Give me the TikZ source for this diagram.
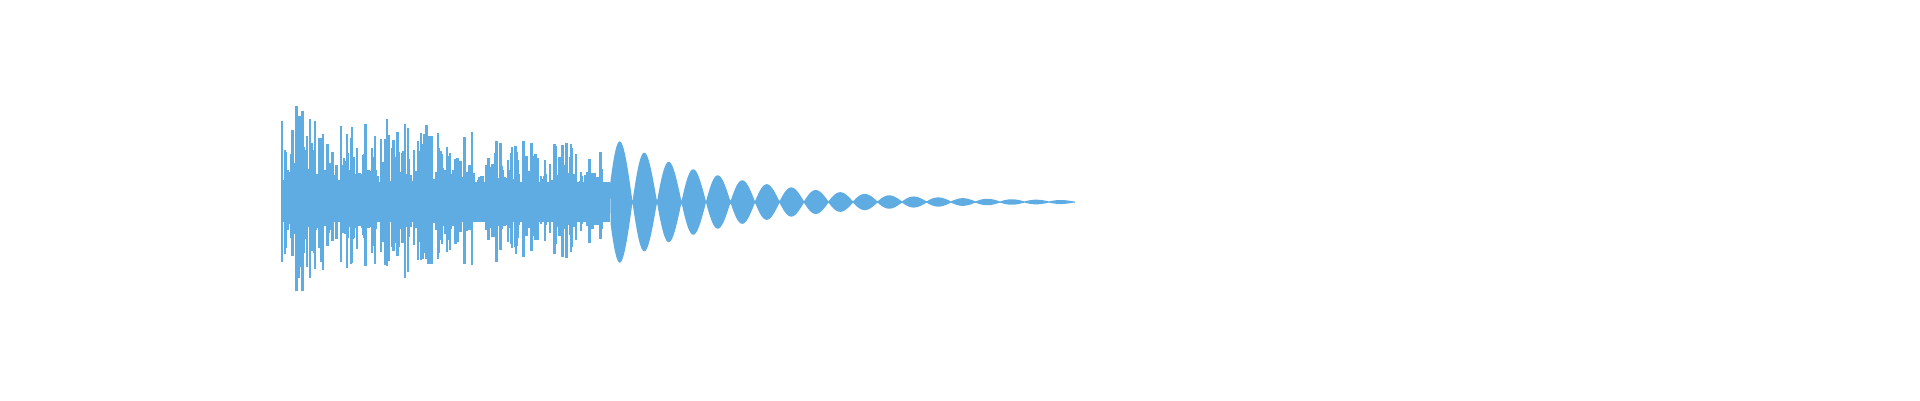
\documentclass[tikz,border=0pt]{standalone}
\definecolor{wave}{RGB}{94,172,226}
\begin{document}
\begin{tikzpicture}[x=1cm,y=1cm,wv/.style={draw=wave,line width=0.7pt}]
\useasboundingbox (0,0) rectangle (19.2,4);
\pgfmathsetseed{7}
\fill[wave] (2.82,1.98-0.2) rectangle (6.1,1.98+0.2);
\foreach \i in {0,...,330}{
  \pgfmathsetmacro{\xx}{2.82+\i*0.0097}
  \pgfmathsetmacro{\aa}{(1.0-0.45*(\xx-2.82)/3.2)}
  \pgfmathsetmacro{\r}{rnd}
  \pgfmathsetmacro{\h}{\aa*(0.2+0.8*\r*\r)}
  \pgfmathsetmacro{\hb}{\h*(0.7+0.3*rnd)}
  \draw[wv] (\xx,1.98-\hb) -- (\xx,1.98+\h);
}
\fill[wave] plot[domain=6.1:10.75,samples=600,smooth]
  (\x,{1.98+0.6*exp(-(\x-6.2)*0.85)*abs(sin(deg(pi*(\x-6.08)/0.245)))+0.006})
  -- plot[domain=10.75:6.1,samples=600,smooth]
  (\x,{1.98-0.6*exp(-(\x-6.2)*0.85)*abs(sin(deg(pi*(\x-6.08)/0.245)))-0.006}) -- cycle;
\end{tikzpicture}
\end{document}
